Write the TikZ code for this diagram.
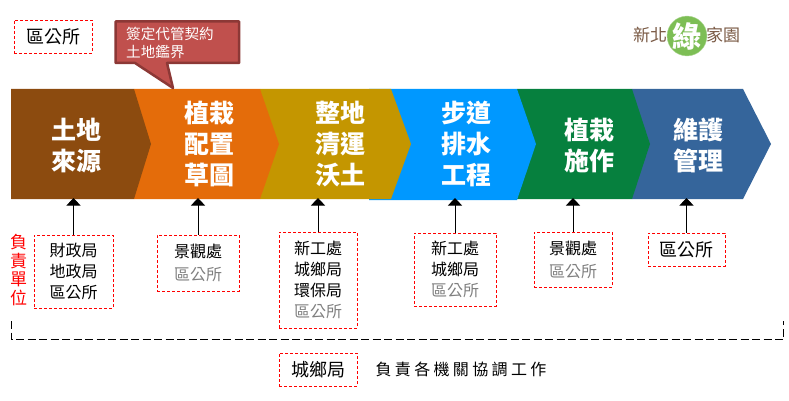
\documentclass[tikz,border=0pt]{standalone}
\usepackage{fontspec}
\usetikzlibrary{arrows.meta}
\newfontfamily\cjk{Noto Sans CJK TC}
\newfontfamily\cjkwide[LetterSpace=21]{Noto Sans CJK TC}
\definecolor{bandbrown}{HTML}{8C4B0F}
\definecolor{bandorange}{HTML}{E46C0A}
\definecolor{bandgold}{HTML}{C49600}
\definecolor{bandblue}{HTML}{0098FF}
\definecolor{bandgreen}{HTML}{06803E}
\definecolor{banddark}{HTML}{35659B}
\definecolor{calloutfill}{HTML}{C0504D}
\definecolor{calloutline}{HTML}{8C3836}
\definecolor{logobrown}{HTML}{7A5A45}
\definecolor{logogreen}{HTML}{7DBE55}
\definecolor{softgray}{HTML}{808080}

\begin{document}
\begin{tikzpicture}[x=1pt,y=-1pt,>={Triangle[length=7.5pt,width=14pt]},
  box node/.style={draw=red,dash pattern=on 3pt off 2pt,line width=0.8pt,inner sep=0pt,align=center,
    font=\cjk\fontsize{16}{21}\selectfont},
  band text/.style={text=white,align=center,inner sep=0pt,font=\cjk\bfseries\fontsize{25}{31}\selectfont},
  logo text/.style={text=logobrown,inner sep=0pt,font=\cjk\fontsize{17}{20}\selectfont}]

  \useasboundingbox (0,0) rectangle (789,401);

  \fill[banddark] (632,89) -- (743,89) -- (771,144) -- (743,199) -- (632,199) -- cycle;
  \fill[bandgreen] (517,89) -- (632,89) -- (650,144) -- (632,199) -- (517,199) -- cycle;
  \fill[bandblue] (369,89) -- (517,89) -- (536,144) -- (517,200) -- (369,200) -- cycle;
  \fill[bandgold] (260,89) -- (391,89) -- (411,144) -- (391,199) -- (260,199) -- cycle;
  \fill[bandorange] (134,89) -- (260,89) -- (279,144) -- (260,199) -- (134,199) -- cycle;
  \fill[bandbrown] (11,89) -- (134,89) -- (151,144) -- (134,199) -- (11,199) -- cycle;

  \node[band text] (t1) at (76,145.5) {土地\\來源};
  \node[band text] (t2) at (209,144) {植栽\\配置\\草圖};
  \node[band text] (t3) at (340,144) {整地\\清運\\沃土};
  \node[band text] (t4) at (466,144) {步道\\排水\\工程};
  \node[band text] (t5) at (589,145.5) {植栽\\施作};
  \node[band text] (t6) at (698,145.5) {維護\\管理};

  \draw[calloutline,fill=calloutfill,line width=2.5pt,line join=round]
    (115.5,21.5) -- (239,21.5) -- (239,63) -- (167,63) -- (173,88) -- (135,63) -- (115.5,63) -- cycle;
  \node[text=white,align=left,anchor=west,inner sep=0pt,font=\cjk\fontsize{14.6}{18}\selectfont] (note) at (126,43) {簽定代管契約\\土地鑑界};

  \node[box node,minimum width=78pt,minimum height=33pt,font=\cjk\fontsize{18}{21}\selectfont] (office) at (53,36.5) {區公所};

  \node[fill=logogreen,draw=logogreen!60,circle,minimum size=36pt,inner sep=0pt,text=white,font=\cjk\bfseries\fontsize{29}{30}\selectfont] (logo) at (687,36) {綠};
  \node[logo text] (logol) at (650,35) {新北};
  \node[logo text] (logor) at (723,35) {家園};

  \node[text=red,align=center,inner sep=0pt,font=\cjk\fontsize{17}{18.5}\selectfont] (duty) at (18.5,270) {負\\責\\單\\位};

  \node[box node,minimum width=79pt,minimum height=73pt] (b1) at (73.5,271.5) {財政局\\地政局\\區公所};
  \node[box node,minimum width=82pt,minimum height=56pt] (b2) at (198,263) {景觀處\\[2pt]{\color{softgray}區公所}};
  \node[box node,minimum width=78pt,minimum height=96pt] (b3) at (318,280) {新工處\\城鄉局\\環保局\\{\color{softgray}區公所}};
  \node[box node,minimum width=82pt,minimum height=73pt] (b4) at (455,269.5) {新工處\\城鄉局\\{\color{softgray}區公所}};
  \node[box node,minimum width=78pt,minimum height=55pt] (b5) at (573,259.5) {景觀處\\[2pt]{\color{softgray}區公所}};
  \node[box node,minimum width=77pt,minimum height=33pt,font=\cjk\fontsize{18}{21}\selectfont] (b6) at (686.5,249.5) {區公所};

  \coordinate (a1) at (73.5,198);
  \coordinate (a2) at (198,198);
  \coordinate (a3) at (318,198);
  \coordinate (a4) at (455,198);
  \coordinate (a5) at (573,198);
  \coordinate (a6) at (686.5,198);

  \path[->,line width=1pt]
    (b1) edge (a1)
    (b2) edge (a2)
    (b3) edge (a3)
    (b4) edge (a4)
    (b5) edge (a5)
    (b6) edge (a6)
    ;

  \coordinate (c1) at (11.5,321);
  \coordinate (c2) at (11.5,339.5);
  \coordinate (c3) at (783.5,339.5);
  \coordinate (c4) at (783.5,321);
  \draw[dash pattern=on 8pt off 3.5pt,line width=0.8pt] (c1) -- (c2) -- (c3) -- (c4);

  \node[box node,minimum width=78pt,minimum height=33pt,font=\cjk\fontsize{18}{21}\selectfont] (b7) at (318,369.5) {城鄉局};
  \node[inner sep=0pt,font=\cjkwide\fontsize{16}{21}\selectfont] (coord) at (461,369.5) {負責各機關協調工作};
\end{tikzpicture}
\end{document}
